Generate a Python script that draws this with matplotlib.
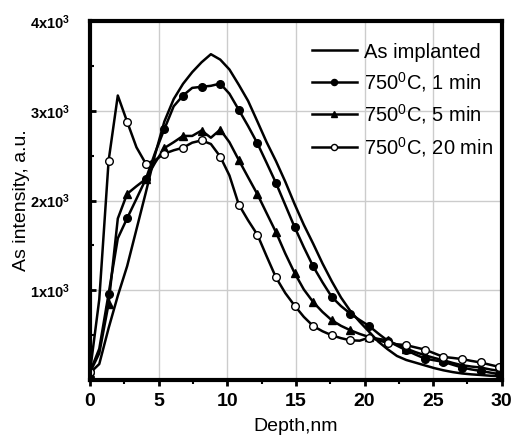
import matplotlib
matplotlib.use("Agg")
from matplotlib import pyplot as plt

plt.rcParams['font.family'] = ['Liberation Sans', 'DejaVu Sans']
plt.rcParams['mathtext.fontset'] = 'custom'
plt.rcParams['mathtext.rm'] = 'Liberation Sans'
plt.rcParams['mathtext.it'] = 'Liberation Sans:italic'
plt.rcParams['mathtext.bf'] = 'Liberation Sans:bold'

# depth grid (nm), markers sit on every second point
depth = [0.00, 0.68, 1.36, 2.03, 2.71, 3.39, 4.07, 4.74, 5.42, 6.10,
         6.78, 7.45, 8.13, 8.81, 9.49, 10.16, 10.84, 11.52, 12.20, 12.87,
         13.55, 14.23, 14.91, 15.58, 16.26, 16.94, 17.62, 18.29, 18.97, 19.65,
         20.33, 21.00, 21.68, 22.36, 23.04, 23.72, 24.39, 25.07, 25.75, 26.43,
         27.10, 27.78, 28.46, 29.14, 29.81]

as_implanted = [80, 180, 580, 940, 1270, 1680, 2090, 2510, 2880, 3130,
                3300, 3430, 3540, 3630, 3570, 3460, 3290, 3110, 2880, 2650,
                2440, 2210, 1960, 1730, 1520, 1300, 1100, 920, 770, 650,
                540, 430, 345, 270, 225, 195, 165, 135, 110, 90,
                75, 65, 58, 50, 45]

min1 = [90, 350, 963, 1580, 1803, 2020, 2240, 2530, 2796, 3050,
        3170, 3255, 3267, 3278, 3303, 3190, 3011, 2830, 2637, 2420,
        2196, 1950, 1704, 1480, 1267, 1090, 926, 825, 741, 670,
        604, 520, 440, 385, 333, 285, 241, 222, 204, 172,
        141, 120, 103, 85, 67]

min5 = [85, 300, 852, 1800, 2075, 2160, 2240, 2420, 2585, 2650,
        2720, 2720, 2780, 2700, 2790, 2650, 2452, 2260, 2070, 1860,
        1648, 1410, 1193, 1010, 870, 760, 667, 605, 556, 515,
        481, 460, 444, 395, 352, 312, 278, 248, 222, 192,
        167, 152, 141, 120, 103]

min20 = [89, 900, 2444, 3170, 2878, 2593, 2411, 2450, 2522, 2560,
         2589, 2645, 2670, 2630, 2490, 2280, 1956, 1780, 1619, 1380,
         1144, 970, 830, 705, 603, 545, 500, 468, 444, 440,
         474, 445, 415, 400, 390, 365, 341, 300, 259, 248,
         235, 215, 197, 172, 148]

labels = ["As implanted", "750$^0$C, 1 min", "750$^0$C, 5 min", "750$^0$C, 20 min"]
xticks = [0, 5, 10, 15, 20, 25, 30]
yticks = [1000, 2000, 3000, 4000]
ytick_labels = [r"$\mathbf{1x10^3}$", r"$\mathbf{2x10^3}$", r"$\mathbf{3x10^3}$", r"$\mathbf{4x10^3}$"]

fig = plt.figure(figsize=(5.11, 4.37), dpi=100)
ax = fig.add_axes([0.176, 0.130, 0.806, 0.822])

ax.plot(depth, as_implanted, color="black", lw=1.8, label=labels[0])
ax.plot(depth, min1, color="black", lw=1.8, marker="o", ms=5.5, markevery=2,
        mfc="black", mec="black", label=labels[1])
ax.plot(depth, min5, color="black", lw=1.8, marker="^", ms=6, markevery=2,
        mfc="black", mec="black", label=labels[2])
ax.plot(depth, min20, color="black", lw=1.8, marker="o", ms=5.5, markevery=2,
        mfc="white", mec="black", mew=1, label=labels[3])

ax.set_xlim(0, 30)
ax.set_ylim(0, 4000)
ax.set_xticks(xticks)
ax.set_xticklabels([str(t) for t in xticks], fontweight="bold", fontsize=14)
ax.set_xticks([2.5, 7.5, 12.5, 17.5, 22.5, 27.5], minor=True)
ax.set_yticks(yticks)
ax.set_yticklabels(ytick_labels, fontsize=10.5)
ax.set_yticks([500, 1500, 2500, 3500], minor=True)
ax.grid(True, which="major", color="#cccccc", lw=1)
ax.set_axisbelow(True)

ax.tick_params(axis="x", which="major", direction="out", length=4, width=2, pad=5)
ax.tick_params(axis="x", which="minor", direction="out", length=3, width=1.5)
ax.tick_params(axis="y", which="major", direction="in", length=4, width=2, pad=14)
ax.tick_params(axis="y", which="minor", direction="in", length=3, width=1.5)
for s in ax.spines.values():
    s.set_linewidth(3)

ax.set_xlabel("Depth,nm", fontsize=14, labelpad=6)
ax.set_ylabel("As intensity, a.u.", fontsize=14, labelpad=0)

ax.legend(loc="upper left", bbox_to_anchor=(0.54, 0.94), frameon=False,
          fontsize=14.5, borderpad=0, borderaxespad=0, handlelength=2.2,
          handletextpad=0.35, labelspacing=0.42, markerscale=0.8)

fig.savefig("out.png", dpi=100)
